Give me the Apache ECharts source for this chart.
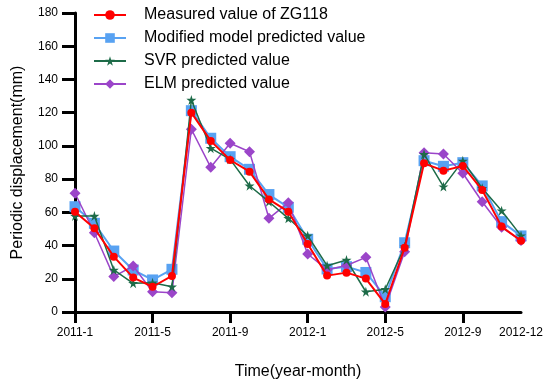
<!DOCTYPE html>
<html>
<head>
<meta charset="utf-8">
<script src="https://cdn.jsdelivr.net/npm/echarts@6/dist/echarts.min.js"></script>
<style>html,body{margin:0;padding:0;background:#fff;}#c{width:550px;height:389px;}</style>
</head>
<body>
<div id="c"></div>
<script>
const months = ['2011-1','2011-2','2011-3','2011-4','2011-5','2011-6','2011-7','2011-8','2011-9','2011-10','2011-11','2011-12',
  '2012-1','2012-2','2012-3','2012-4','2012-5','2012-6','2012-7','2012-8','2012-9','2012-10','2012-11','2012-12'];
const measured = [60.4, 50.4, 33.3, 20.7, 15.2, 21.7, 120.0, 103.0, 91.5, 84.5, 67.8, 60.4, 40.9, 21.9, 23.7, 20.1, 4.8, 38.7, 89.5, 85.1, 87.9, 73.4, 51.4, 42.9];
const modified = [63.4, 53.4, 36.7, 25.3, 19.3, 25.7, 121.2, 104.6, 93.5, 85.9, 70.7, 63.0, 43.8, 25.9, 27.3, 23.8, 9.2, 41.7, 91.1, 87.7, 89.9, 75.9, 54.4, 45.8];
const svr = [57.8, 57.8, 25.3, 17.3, 17.6, 15.2, 127.6, 98.6, 91.9, 76.0, 66.4, 56.4, 45.9, 27.9, 31.3, 12.2, 13.7, 39.3, 95.0, 75.5, 91.0, 74.5, 61.0, 46.0];
const elm = [71.5, 47.7, 21.3, 27.7, 12.2, 11.6, 110.0, 87.1, 101.6, 96.5, 56.4, 65.8, 34.9, 25.5, 28.0, 32.9, 3.0, 36.3, 95.9, 95.1, 83.5, 66.4, 51.0, 43.0];
const seriesNames = ['Measured value of ZG118', 'Modified model predicted value', 'SVR predicted value', 'ELM predicted value'];

const chart = echarts.init(document.getElementById('c'));
const font = 'Liberation Sans, Arial, sans-serif';
chart.setOption({
  animation: false,
  backgroundColor: '#fff',
  grid: {left: 75, right: 29, top: 13, bottom: 77, containLabel: false},
  legend: {
    orient: 'vertical', left: 88, top: 2, itemWidth: 32, itemHeight: 12, itemGap: 7,
    textStyle: {fontFamily: font, fontSize: 16, color: '#000', padding: [0, 0, 0, 13]},
    data: seriesNames
  },
  xAxis: {
    type: 'category', data: months, boundaryGap: false,
    name: 'Time(year-month)', nameLocation: 'middle', nameGap: 52,
    nameTextStyle: {fontFamily: font, fontSize: 16, color: '#000'},
    axisLine: {lineStyle: {color: '#000', width: 3}},
    axisTick: {show: true, length: 11, lineStyle: {color: '#000', width: 3},
      interval: function (i) { return i % 4 === 0; }},
    axisLabel: {fontFamily: font, fontSize: 12, color: '#000', margin: 15,
      interval: function (i) { return i % 4 === 0 || i === months.length - 1; }},
    splitLine: {show: false}
  },
  yAxis: {
    type: 'value', min: 0, max: 180, interval: 20,
    name: 'Periodic displacement(mm)', nameLocation: 'middle', nameGap: 49,
    nameTextStyle: {fontFamily: font, fontSize: 16, color: '#000'},
    axisLine: {show: true, lineStyle: {color: '#000', width: 3}},
    axisTick: {show: true, length: 13, lineStyle: {color: '#000', width: 3}},
    axisLabel: {fontFamily: font, fontSize: 12, color: '#000', margin: 17},
    splitLine: {show: false}
  },
  series: [
    {name: seriesNames[0], type: 'line', data: measured, z: 5, symbol: 'circle', symbolSize: 8,
      itemStyle: {color: '#ff0000'}, lineStyle: {color: '#ff0000', width: 2}},
    {name: seriesNames[1], type: 'line', data: modified, z: 2, symbol: 'rect', symbolSize: 11,
      itemStyle: {color: '#58a2f2'}, lineStyle: {color: '#58a2f2', width: 2}},
    {name: seriesNames[2], type: 'line', data: svr, z: 4, symbol: 'path://M50,0 L61,35 L98,35 L68,57 L79,92 L50,70 L21,92 L32,57 L2,35 L39,35 Z', symbolSize: 10,
      itemStyle: {color: '#1d6b48'}, lineStyle: {color: '#1d6b48', width: 1.5}},
    {name: seriesNames[3], type: 'line', data: elm, z: 3, symbol: 'diamond', symbolSize: 11,
      itemStyle: {color: '#9b45c9'}, lineStyle: {color: '#9b45c9', width: 1.5}}
  ]
});
</script>
</body>
</html>
